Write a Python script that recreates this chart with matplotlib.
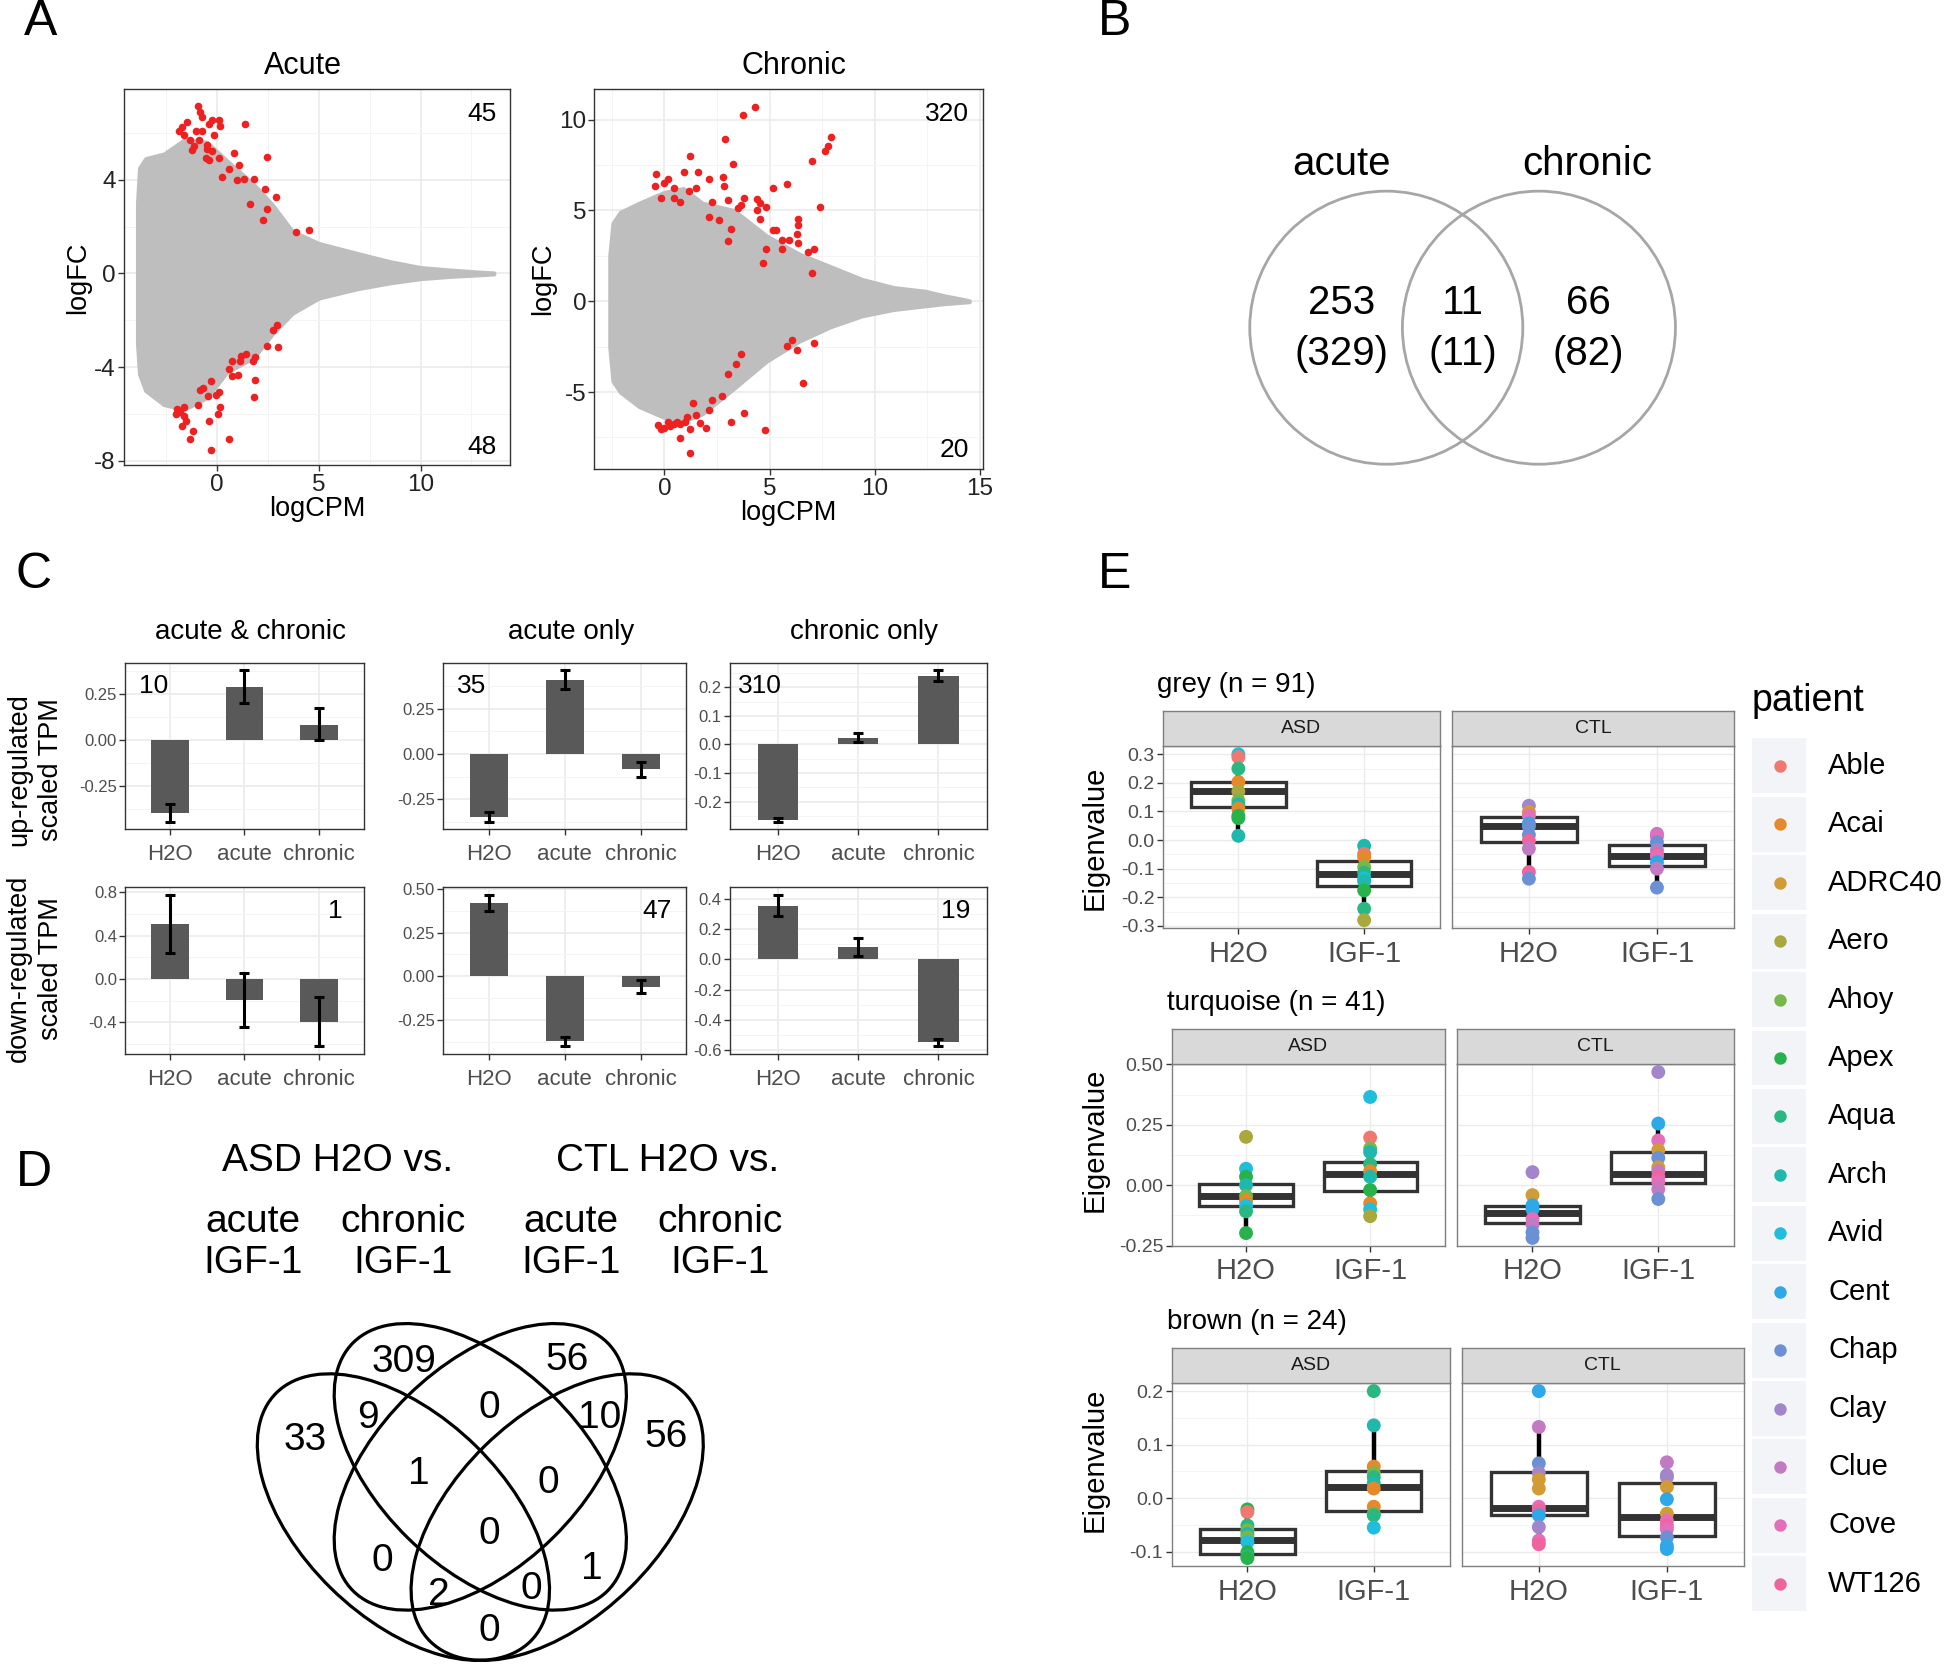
import matplotlib
matplotlib.use("Agg")
import matplotlib.pyplot as plt
from matplotlib.patches import Circle, Ellipse, Rectangle
from matplotlib.ticker import AutoMinorLocator, FixedLocator
import numpy as np

plt.rcParams['font.family'] = ['Liberation Sans', 'DejaVu Sans']

# ------------------------------------------------ PANEL A DATA ------------------------------------------------
# grey cloud of all genes given as its outline (logCPM, upper / lower logFC)
acute_env_cpm = [-3.9, -3.8, -3.5, -2.6, -1.6, -0.5, 0.5, 1.8, 2.7, 3.7, 5.0, 6.9, 8.5, 10.0, 11.5, 12.8, 13.6]
acute_env_hi = [3.0, 4.5, 4.9, 5.1, 5.7, 5.6, 4.8, 3.8, 2.95, 1.8, 1.28, 0.85, 0.5, 0.25, 0.14, 0.06, 0.02]
acute_env_lo = [-3.0, -4.3, -5.0, -5.6, -5.8, -5.3, -4.2, -3.6, -2.6, -1.7, -1.05, -0.65, -0.4, -0.22, -0.12, -0.06, -0.02]
acute_red_cpm = [-0.91, -0.82, -0.75, -0.22, 0.09, -0.38, -1.48, -1.73, -1.86, -1.01, -0.75, 0.13, 1.38, -0.13,
                 -1.64, -1.32, -0.88, -0.50, -0.47, -1.23, -0.22, 0.82, 0.09, -0.53, -0.38, 2.45, 1.07, 0.57,
                 1.35, 1.82, 0.97, 2.36, 2.92, 1.60, 2.45, 2.26, 3.90, 4.50, 0.25, -1.13,
                 2.96, 2.77, 2.45, 2.99, 1.19, 1.45, 1.89, 1.76, 1.13, 0.72, 0.57, 1.04, 0.72, 1.89, -0.28,
                 -0.69, 0.09, -0.82, -0.06, -0.44, 1.82, 0.13, -0.94, -1.64, -1.79, -2.01, -1.64, 0.06,
                 -1.54, -1.70, -1.16, -0.38, 0.57, -1.32, -0.31, -1.95]
acute_red_fc = [7.15, 6.88, 6.67, 6.56, 6.56, 6.38, 6.45, 6.27, 6.08, 6.08, 6.08, 6.30, 6.38, 5.90,
                5.90, 5.69, 5.69, 5.50, 5.33, 5.28, 5.21, 5.14, 4.92, 4.92, 4.85, 4.96, 4.63, 4.48,
                4.05, 4.05, 3.97, 3.61, 3.25, 2.95, 2.74, 2.30, 1.75, 1.86, 4.12, 5.43,
                -2.21, -2.43, -3.09, -3.16, -3.52, -3.45, -3.57, -3.74, -3.74, -3.74, -4.10, -4.32, -4.40, -4.54, -4.61,
                -4.91, -5.05, -4.98, -5.17, -5.24, -5.27, -5.71, -5.63, -5.71, -5.92, -6.00, -6.07, -6.00,
                -6.29, -6.51, -6.72, -6.29, -7.09, -7.09, -7.53, -5.78]
acute_counts = ["45", "48"]

chronic_env_cpm = [-2.6, -2.45, -2.1, -1.2, 0.0, 0.9, 1.8, 3.3, 4.85, 6.4, 7.9, 9.4, 10.9, 12.4, 13.3, 14.2, 14.5]
chronic_env_hi = [2.5, 4.3, 4.9, 5.4, 6.0, 6.2, 5.4, 5.0, 3.6, 2.6, 1.9, 1.2, 0.75, 0.55, 0.3, 0.1, 0.02]
chronic_env_lo = [-2.5, -4.4, -5.0, -5.8, -6.4, -6.6, -6.2, -4.8, -3.3, -2.2, -1.4, -0.8, -0.45, -0.25, -0.13, -0.05, -0.02]
chronic_red_cpm = [4.33, 3.73, 7.94, 2.88, 1.21, 7.79, 7.64, 7.03, 3.27, -0.39, 0.15, 0.91, 1.58, 2.12, 2.79,
                   -0.45, 0.00, 0.45, 1.15, 1.52, 2.85, 5.15, 5.82, -0.15, 0.76, 2.27, 3.03, 3.79, 4.39, 4.55,
                   3.64, 3.48, 4.85, 7.42, 2.12, 2.58, 3.18, 4.39, 4.55, 5.15, 5.30, 6.36, 6.36, 5.61, 5.91,
                   6.36, 4.85, 5.61, 6.82, 7.12, 6.30, 7.03, 4.70, 3.03, 0.45,
                   7.12, 6.06, 5.82, 6.30, 3.64, 3.39, 3.03, 2.73, 2.27, 1.36, 3.79, 3.18, 2.12, 1.52, 1.67,
                   1.06, 0.97, 0.76, 0.61, 0.45, 0.24, 0.00, -0.30, -0.15, 1.21, 0.76, 1.21, 6.61, 4.79, 1.97, 0.15]
chronic_red_fc = [10.68, 10.25, 9.05, 8.92, 8.00, 8.54, 8.25, 7.74, 7.55, 7.02, 6.73, 7.11, 7.11, 6.73, 6.83,
                  6.35, 6.54, 6.25, 6.06, 6.25, 6.35, 6.25, 6.44, 5.68, 5.49, 5.49, 5.59, 5.68, 5.63, 5.40,
                  5.30, 5.11, 5.21, 5.17, 4.64, 4.45, 3.97, 5.02, 4.54, 3.92, 3.92, 4.54, 4.22, 3.40, 3.40,
                  3.21, 2.89, 2.89, 2.74, 2.89, 3.69, 1.54, 2.13, 3.31, 5.68,
                  -2.32, -2.11, -2.49, -2.68, -2.93, -3.44, -4.01, -5.21, -5.44, -5.63, -6.14, -6.67, -6.01, -6.29, -6.73,
                  -6.39, -6.67, -6.77, -6.67, -6.77, -6.86, -6.96, -6.81, -7.05, -7.05, -7.53, -8.38, -4.52, -7.11, -6.96, -6.67]
chronic_counts = ["320", "20"]

# ------------------------------------------------ PANEL B DATA ------------------------------------------------
venn2_sets = ["acute", "chronic"]
venn2_counts = ["253", "11", "66"]
venn2_counts_all = ["(329)", "(11)", "(82)"]

# ------------------------------------------------ PANEL C DATA ------------------------------------------------
c_groups = ["H2O", "acute", "chronic"]
c_titles = ["acute & chronic", "acute only", "chronic only"]
up_means = [[-0.397, 0.290, 0.085], [-0.348, 0.408, -0.085], [-0.263, 0.024, 0.239]]
up_lo = [[-0.444, 0.205, 0.000], [-0.373, 0.357, -0.130], [-0.270, 0.008, 0.221]]
up_hi = [[-0.349, 0.380, 0.176], [-0.322, 0.460, -0.043], [-0.256, 0.040, 0.259]]
down_means = [[0.508, -0.195, -0.392], [0.418, -0.371, -0.058], [0.354, 0.082, -0.547]]
down_lo = [[0.237, -0.444, -0.620], [0.371, -0.399, -0.097], [0.286, 0.022, -0.573]]
down_hi = [[0.775, 0.055, -0.164], [0.464, -0.346, -0.019], [0.425, 0.143, -0.525]]
up_counts = ["10", "35", "310"]
down_counts = ["1", "47", "19"]
up_ticks = [[-0.25, 0.0, 0.25], [-0.25, 0.0, 0.25], [-0.2, -0.1, 0.0, 0.1, 0.2]]
up_ticklabels = [["-0.25", "0.00", "0.25"], ["-0.25", "0.00", "0.25"], ["-0.2", "-0.1", "0.0", "0.1", "0.2"]]
down_ticks = [[-0.4, 0.0, 0.4, 0.8], [-0.25, 0.0, 0.25, 0.5], [-0.6, -0.4, -0.2, 0.0, 0.2, 0.4]]
down_ticklabels = [["-0.4", "0.0", "0.4", "0.8"], ["-0.25", "0.00", "0.25", "0.50"],
                   ["-0.6", "-0.4", "-0.2", "0.0", "0.2", "0.4"]]

# ------------------------------------------------ PANEL D DATA ------------------------------------------------
venn4_heads = ["ASD H2O vs.", "CTL H2O vs."]
venn4_sets = ["acute\nIGF-1", "chronic\nIGF-1", "acute\nIGF-1", "chronic\nIGF-1"]
venn4_regions = ["A", "B", "C", "D", "AB", "BC", "CD", "ABC", "BCD", "ABCD", "AC", "ACD", "ABD", "BD", "AD"]
venn4_counts = [33, 309, 56, 56, 9, 0, 10, 1, 0, 0, 0, 2, 0, 1, 0]

# ------------------------------------------------ PANEL E DATA ------------------------------------------------
patients = ["Able", "Acai", "ADRC40", "Aero", "Ahoy", "Apex", "Aqua", "Arch",
            "Avid", "Cent", "Chap", "Clay", "Clue", "Cove", "WT126"]
patient_colors = ["#F07870", "#E6892A", "#D19C35", "#A8A83C", "#77B84B", "#27B24C",
                  "#2AB882", "#1FB8AC", "#1EBEDC", "#2EA8E6", "#6B91D4", "#A286CC",
                  "#C27BC2", "#E36EB9", "#F0649E"]
e_modules = ["grey (n = 91)", "turquoise (n = 41)", "brown (n = 24)"]
e_facets = ["ASD", "CTL"]
e_groups = ["H2O", "IGF-1"]

# order inside each module: ASD H2O, ASD IGF-1, CTL H2O, CTL IGF-1
grey_vals = [
    [0.300, 0.290, 0.250, 0.203, 0.170, 0.138, 0.125, 0.110, 0.085, 0.077, 0.015],
    [-0.020, -0.048, -0.060, -0.094, -0.114, -0.134, -0.144, -0.176, -0.240, -0.280],
    [0.120, 0.098, 0.085, 0.058, 0.048, 0.018, -0.002, -0.030, -0.112, -0.135],
    [0.022, 0.012, -0.008, -0.035, -0.050, -0.057, -0.077, -0.100, -0.166],
]
grey_pats = [
    ["Avid", "Able", "Aqua", "Acai", "Aero", "Ahoy", "Arch", "Acai", "Apex", "Apex", "Arch"],
    ["Arch", "Able", "Acai", "Ahoy", "Aqua", "Avid", "Arch", "Apex", "Aqua", "Aero"],
    ["Clay", "ADRC40", "Cove", "Cent", "Chap", "Chap", "WT126", "Clue", "WT126", "Chap"],
    ["Clue", "Cove", "Chap", "Clay", "WT126", "Cove", "Cent", "Clue", "Chap"],
]
grey_box = [(0.015, 0.115, 0.173, 0.204, 0.300), (-0.280, -0.160, -0.118, -0.072, -0.020),
            (-0.135, -0.005, 0.048, 0.081, 0.120), (-0.166, -0.089, -0.054, -0.017, 0.022)]

turq_vals = [
    [0.200, 0.068, 0.035, 0.000, -0.045, -0.065, -0.085, -0.108, -0.198],
    [0.365, 0.197, 0.152, 0.137, 0.087, 0.058, 0.035, -0.020, -0.075, -0.100, -0.128],
    [0.054, -0.041, -0.083, -0.100, -0.140, -0.163, -0.195, -0.218],
    [0.468, 0.255, 0.185, 0.145, 0.113, 0.074, 0.058, 0.035, 0.014, -0.017, -0.057],
]
turq_pats = [
    ["Aero", "Avid", "Apex", "Arch", "Ahoy", "Acai", "Avid", "Aqua", "Apex"],
    ["Avid", "Able", "Ahoy", "Arch", "Aqua", "Acai", "Arch", "Apex", "Acai", "Avid", "Aero"],
    ["Clay", "ADRC40", "Cent", "Cent", "Cove", "Clue", "Chap", "Chap"],
    ["Clay", "Cent", "Cove", "ADRC40", "Chap", "ADRC40", "Clue", "WT126", "Cove", "Clue", "Chap"],
]
turq_box = [(-0.198, -0.085, -0.045, 0.005, 0.068), (-0.128, -0.025, 0.046, 0.098, 0.197),
            (-0.218, -0.156, -0.115, -0.087, -0.041), (-0.057, 0.011, 0.046, 0.137, 0.255)]

brown_vals = [
    [-0.021, -0.026, -0.051, -0.060, -0.067, -0.073, -0.082, -0.101, -0.108, -0.112],
    [0.200, 0.136, 0.059, 0.047, 0.039, 0.028, 0.018, -0.016, -0.029, -0.032, -0.055],
    [0.200, 0.133, 0.065, 0.047, 0.035, 0.018, -0.016, -0.023, -0.032, -0.054, -0.079, -0.086],
    [0.067, 0.043, 0.039, 0.021, -0.002, -0.029, -0.042, -0.051, -0.058, -0.073, -0.089, -0.095],
]
brown_pats = [
    ["Apex", "Able", "Aqua", "Ahoy", "Arch", "Ahoy", "Avid", "Apex", "Aqua", "Apex"],
    ["Aqua", "Arch", "Acai", "Ahoy", "Aqua", "Arch", "Acai", "Acai", "Ahoy", "Aqua", "Avid"],
    ["Cent", "Clue", "Chap", "Clay", "ADRC40", "ADRC40", "Cove", "WT126", "Cent", "Clay", "Cove", "WT126"],
    ["Clue", "Clay", "Clay", "ADRC40", "Cent", "ADRC40", "Cove", "WT126", "Cove", "Chap", "Cent", "Cent"],
]
brown_box = [(-0.112, -0.104, -0.079, -0.058, -0.021), (-0.055, -0.024, 0.020, 0.050, 0.136),
             (-0.086, -0.032, -0.018, 0.048, 0.133), (-0.095, -0.071, -0.036, 0.029, 0.067)]

e_ticks = [[-0.3, -0.2, -0.1, 0.0, 0.1, 0.2, 0.3], [-0.25, 0.0, 0.25, 0.5], [-0.1, 0.0, 0.1, 0.2]]
e_ticklabels = [["-0.3", "-0.2", "-0.1", "0.0", "0.1", "0.2", "0.3"],
                ["-0.25", "0.00", "0.25", "0.50"], ["-0.1", "0.0", "0.1", "0.2"]]

# ------------------------------------------------ LAYOUT ------------------------------------------------
# positions were measured on a 1568 x 1343 view of the reference
W, H = 1568.0, 1343.0


def rect(x0, y0, x1, y1):
    return [x0 / W, 1 - y1 / H, (x1 - x0) / W, (y1 - y0) / H]


def fx(x):
    return x / W


def fy(y):
    return 1 - y / H


GRID = '#EBEBEB'
BORDER = '#333333'
TXT = '#4D4D4D'


def bw_axes(ax):
    for s in ax.spines.values():
        s.set_color(BORDER)
        s.set_linewidth(1.0)
    ax.tick_params(which='major', direction='out', length=4, width=1, color=BORDER)
    ax.tick_params(which='minor', length=0)
    ax.grid(which='major', color=GRID, lw=1.2, zorder=0)
    ax.grid(which='minor', color='#F4F4F4', lw=0.7, zorder=0)
    ax.set_axisbelow(True)


fig = plt.figure(figsize=(19.46, 16.67), dpi=100)
fig.patch.set_facecolor('white')

for lab, x, y in [("A", 33, 18), ("B", 898, 18), ("C", 27, 463), ("D", 27, 945), ("E", 898, 463)]:
    fig.text(fx(x), fy(y), lab, fontsize=36, ha='center', va='center')

# ------------------------------------------------ PANEL A ------------------------------------------------


def ma_plot(ax, env_cpm, env_hi, env_lo, red_cpm, red_fc, counts, xlim, ylim, xticks, yticks):
    ax.fill_between(env_cpm, env_lo, env_hi, facecolor='#BEBEBE', edgecolor='#BEBEBE', lw=3, zorder=2)
    ax.scatter(red_cpm, red_fc, s=30, color='#EE2020', lw=0, zorder=3)
    ax.set_xlim(xlim)
    ax.set_ylim(ylim)
    ax.set_xticks(xticks)
    ax.set_yticks(yticks)
    ax.set_xticklabels([str(t) for t in xticks], fontsize=17.5)
    ax.set_yticklabels([str(t) for t in yticks], fontsize=17.5)
    ax.xaxis.set_minor_locator(AutoMinorLocator(2))
    ax.yaxis.set_minor_locator(AutoMinorLocator(2))
    bw_axes(ax)
    ax.tick_params(labelcolor='#222222', pad=2)
    ax.set_xlabel("logCPM", fontsize=19.5, labelpad=0)
    ax.set_ylabel("logFC", fontsize=19.5, labelpad=2)
    ax.text(0.965, 0.935, counts[0], transform=ax.transAxes, ha='right', va='center', fontsize=19)
    ax.text(0.965, 0.05, counts[1], transform=ax.transAxes, ha='right', va='center', fontsize=19)


ax_a1 = fig.add_axes(rect(100, 72, 411, 375))
ma_plot(ax_a1, acute_env_cpm, acute_env_hi, acute_env_lo, acute_red_cpm, acute_red_fc, acute_counts,
        (-4.56, 14.4), (-8.2, 7.86), [0, 5, 10], [-8, -4, 0, 4])
ax_a2 = fig.add_axes(rect(479, 72, 792, 378))
ma_plot(ax_a2, chronic_env_cpm, chronic_env_hi, chronic_env_lo, chronic_red_cpm, chronic_red_fc, chronic_counts,
        (-3.33, 15.15), (-9.25, 11.67), [0, 5, 10, 15], [-5, 0, 5, 10])
fig.text(fx(244), fy(53), "Acute", fontsize=22, ha='center', va='center')
fig.text(fx(640), fy(53), "Chronic", fontsize=22, ha='center', va='center')

# ------------------------------------------------ PANEL B ------------------------------------------------
ax_b = fig.add_axes(rect(969.5, 88, 1387.5, 407))
ax_b.set_xlim(-1.9, 1.9)
ax_b.set_ylim(-1.3, 1.6)
ax_b.axis('off')
for cx in (-0.559, 0.559):
    ax_b.add_patch(Circle((cx, 0), 1.0, fill=False, edgecolor='#A6A6A6', lw=2.0))
for name, cx in zip(venn2_sets, (-0.886, 0.914)):
    ax_b.text(cx, 1.2, name, fontsize=29, ha='center', va='center')
for top, bot, cx in zip(venn2_counts, venn2_counts_all, (-0.886, 0.005, 0.92)):
    ax_b.text(cx, 0.18, top, fontsize=29, ha='center', va='center')
    ax_b.text(cx, -0.19, bot, fontsize=29, ha='center', va='center')

# ------------------------------------------------ PANEL C ------------------------------------------------
c_cols = [(101, 293), (357, 553), (588, 795)]
c_rows = [(534, 668), (715, 849)]
row_data = [(up_means, up_lo, up_hi, up_ticks, up_ticklabels, up_counts),
            (down_means, down_lo, down_hi, down_ticks, down_ticklabels, down_counts)]

for r, (means, los, his, ticks, tlabs, counts) in enumerate(row_data):
    for c in range(3):
        x0, x1 = c_cols[c]
        y0, y1 = c_rows[r]
        ax = fig.add_axes(rect(x0, y0, x1, y1))
        xpos = np.arange(1, len(c_groups) + 1)
        m = np.array(means[c])
        lo = np.array(los[c])
        hi = np.array(his[c])
        ax.bar(xpos, m, width=0.5, color='#595959', zorder=2)
        ax.errorbar(xpos, m, yerr=[m - lo, hi - m], fmt='none', ecolor='black',
                    elinewidth=2.2, capsize=3.5, capthick=2.2, zorder=3)
        ymin = min(lo.min(), m.min(), 0)
        ymax = max(hi.max(), m.max(), 0)
        pad = 0.05 * (ymax - ymin)
        ax.set_ylim(ymin - pad, ymax + pad)
        ax.set_xlim(0.4, 3.6)
        ax.set_xticks(xpos)
        ax.set_xticklabels(c_groups, fontsize=16, color=TXT)
        ax.set_yticks(ticks[c])
        ax.set_yticklabels(tlabs[c], fontsize=12, color=TXT)
        ax.yaxis.set_minor_locator(AutoMinorLocator(2))
        bw_axes(ax)
        ax.tick_params(axis='x', pad=7)
        ax.tick_params(axis='y', pad=2)
        if r == 0:
            ax.text(0.78, 0.86, counts[c], transform=ax.get_xaxis_transform(), fontsize=19,
                    ha='center', va='center')
        else:
            ax.text(3.22, 0.86, counts[c], transform=ax.get_xaxis_transform(), fontsize=19,
                    ha='center', va='center')

for title, (x0, x1) in zip(c_titles, c_cols):
    fig.text(fx((x0 + x1) / 2 + 5), fy(509), title, fontsize=20, ha='center', va='center')
fig.text(fx(28), fy(620), "up-regulated\nscaled TPM", rotation=90, fontsize=19.5,
         ha='center', va='center', multialignment='center', linespacing=1.3)
fig.text(fx(28), fy(780), "down-regulated\nscaled TPM", rotation=90, fontsize=19.5,
         ha='center', va='center', multialignment='center', linespacing=1.3)

# ------------------------------------------------ PANEL D ------------------------------------------------
for head, x in zip(venn4_heads, (272, 538)):
    fig.text(fx(x), fy(935), head, fontsize=28, ha='center', va='center')
for lab, x in zip(venn4_sets, (204, 325, 460, 580)):
    fig.text(fx(x), fy(1001), lab, fontsize=28, ha='center', va='center', linespacing=1.15)

ax_d = fig.add_axes(rect(180.5, 1056.2, 593.5, 1341.7))
ax_d.set_xlim(0, 1)
ax_d.set_ylim(0.175, 0.88)
ax_d.axis('off')
for (cx, cy), ang in [((0.35, 0.47), -45), ((0.5, 0.57), -45), ((0.5, 0.57), 45), ((0.65, 0.47), 45)]:
    ax_d.add_patch(Ellipse((cx, cy), 0.70, 0.40, angle=ang, fill=False, edgecolor='black', lw=2.3))
region_xy = {"A": (0.159, 0.624), "B": (0.352, 0.779), "C": (0.669, 0.782), "D": (0.863, 0.629),
             "AB": (0.280, 0.668), "BC": (0.517, 0.688), "CD": (0.732, 0.668), "ABC": (0.381, 0.555),
             "BCD": (0.633, 0.537), "ABCD": (0.517, 0.436), "AC": (0.309, 0.382), "ACD": (0.420, 0.315),
             "ABD": (0.599, 0.327), "BD": (0.718, 0.367), "AD": (0.517, 0.243)}
for reg, n in zip(venn4_regions, venn4_counts):
    x, y = region_xy[reg]
    ax_d.text(x, y, str(n), fontsize=28, ha='center', va='center')

# ------------------------------------------------ PANEL E ------------------------------------------------
pcol = dict(zip(patients, patient_colors))
e_vals = [grey_vals, turq_vals, brown_vals]
e_pats = [grey_pats, turq_pats, brown_pats]
e_box = [grey_box, turq_box, brown_box]
e_rows = [(573, 601, 748), (829, 857, 1004), (1086, 1114, 1262)]
e_cols = [[(937, 1160), (1170, 1397)], [(944, 1164), (1174, 1397)], [(944, 1168), (1178, 1405)]]
e_title_xy = [(932, 552), (940, 808), (940, 1065)]
e_ylab_y = [675, 918, 1176]

for mi in range(3):
    vals = e_vals[mi]
    allv = [v for grp in vals for v in grp]
    lo, hi = min(allv), max(allv)
    pad = 0.05 * (hi - lo)
    st, pt, pb = e_rows[mi]
    for f in range(2):
        x0, x1 = e_cols[mi][f]
        ax = fig.add_axes(rect(x0, pt, x1, pb))
        stats = []
        for b in e_box[mi][2 * f:2 * f + 2]:
            stats.append(dict(whislo=b[0], q1=b[1], med=b[2], q3=b[3], whishi=b[4], fliers=[]))
        ax.bxp(stats, positions=[1, 2], widths=0.75, showcaps=False, showfliers=False, patch_artist=True,
               boxprops=dict(facecolor='white', edgecolor='#333333', lw=2.4),
               medianprops=dict(color='#333333', lw=5),
               whiskerprops=dict(color='black', lw=3.2), zorder=2)
        for g in range(2):
            v = vals[2 * f + g]
            p = e_pats[mi][2 * f + g]
            ax.scatter([g + 1] * len(v), v, s=100, c=[pcol[n] for n in p], lw=0, zorder=4)
        ax.set_xlim(0.4, 2.6)
        ax.set_ylim(lo - pad, hi + pad)
        ax.set_xticks([1, 2])
        ax.set_xticklabels(e_groups, fontsize=21, color=TXT)
        ax.yaxis.set_major_locator(FixedLocator(e_ticks[mi]))
        ax.yaxis.set_minor_locator(AutoMinorLocator(2))
        bw_axes(ax)
        ax.grid(which='major', color=GRID, lw=1.0, zorder=0)
        for s in ax.spines.values():
            s.set_color('#7F7F7F')
        ax.tick_params(axis='x', pad=4)
        if f == 0:
            ax.set_yticklabels(e_ticklabels[mi], fontsize=14, color=TXT)
            ax.tick_params(axis='y', pad=2)
        else:
            ax.tick_params(axis='y', length=0, labelleft=False)
        sax = fig.add_axes(rect(x0, st, x1, pt))
        sax.set_facecolor('#D9D9D9')
        sax.set_xticks([])
        sax.set_yticks([])
        for s in sax.spines.values():
            s.set_color('#7F7F7F')
            s.set_linewidth(1.0)
        sax.text(0.5, 0.5, e_facets[f], transform=sax.transAxes, fontsize=14, ha='center', va='center',
                 color='#1A1A1A')
    tx, ty = e_title_xy[mi]
    fig.text(fx(tx), fy(ty), e_modules[mi], fontsize=20, ha='left', va='center')
    fig.text(fx(882), fy(e_ylab_y[mi]), "Eigenvalue", fontsize=21, rotation=90, ha='center', va='center')

# legend
fig.text(fx(1411), fy(565), "patient", fontsize=27, ha='left', va='center')
lax = fig.add_axes(rect(1405, 593.5, 1568, 1299.5))
lax.set_xlim(0, 163)
lax.set_ylim(len(patients), 0)
lax.axis('off')
for i, (name, col) in enumerate(zip(patients, patient_colors)):
    lax.add_patch(Rectangle((7, i + 0.03), 43, 0.94, facecolor='#F2F4F7', edgecolor='none'))
    lax.scatter([29], [i + 0.5], s=80, color=col, lw=0, zorder=3)
    lax.text(68, i + 0.5, name, fontsize=21, ha='left', va='center')

fig.savefig("out.png", dpi=100, facecolor='white')
